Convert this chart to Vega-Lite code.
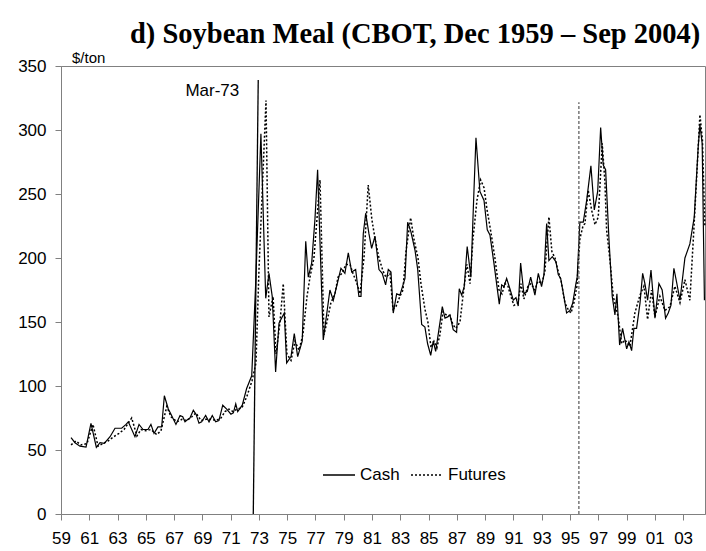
{
"$schema":"https://vega.github.io/schema/vega-lite/v6.json",
"width":644,"height":448,
"autosize":{"type":"none"},
"padding":{"left":61,"top":66,"right":1,"bottom":37},
"background":"white",
"title":{"text":"d) Soybean Meal (CBOT, Dec 1959 – Sep 2004)","font":"Liberation Serif","fontSize":28.5,"fontWeight":"bold","color":"black","anchor":"start","frame":"group","dx":69,"offset":2},
"config":{"view":{"stroke":"#808080","strokeWidth":1},"axis":{"labelFont":"Liberation Sans","labelFontSize":17,"labelColor":"black","domainColor":"#808080","tickColor":"#808080","grid":false,"title":null}},
"datasets":{
"cash":[
{"t":1959.71,"p":59.6},{"t":1959.99,"p":55.7},{"t":1960.34,"p":53},{"t":1960.77,"p":52.3},{"t":1961.12,"p":70.8},{"t":1961.50,"p":52},{"t":1961.76,"p":55.7},{"t":1962.06,"p":55.2},{"t":1962.47,"p":60.4},{"t":1962.82,"p":67},{"t":1963.29,"p":67},{"t":1963.60,"p":70},{"t":1963.76,"p":72},{"t":1964.23,"p":60.4},{"t":1964.52,"p":70},{"t":1964.80,"p":66},{"t":1965.15,"p":66},{"t":1965.36,"p":70},{"t":1965.58,"p":63},{"t":1965.86,"p":68},{"t":1966.12,"p":68},{"t":1966.31,"p":92.4},{"t":1966.59,"p":82},{"t":1966.78,"p":78},{"t":1967.13,"p":70},{"t":1967.42,"p":77},{"t":1967.61,"p":76},{"t":1967.77,"p":72},{"t":1967.98,"p":74},{"t":1968.12,"p":75},{"t":1968.36,"p":81},{"t":1968.55,"p":78},{"t":1968.76,"p":71},{"t":1968.95,"p":72},{"t":1969.23,"p":77},{"t":1969.47,"p":72},{"t":1969.70,"p":77},{"t":1969.94,"p":72},{"t":1970.17,"p":73},{"t":1970.44,"p":85},{"t":1970.72,"p":82},{"t":1971.02,"p":78},{"t":1971.19,"p":79},{"t":1971.36,"p":86},{"t":1971.50,"p":80},{"t":1971.82,"p":85},{"t":1972.13,"p":98},{"t":1972.49,"p":108},{"t":1972.77,"p":180},{"t":1973.14,"p":297},{"t":1973.48,"p":168.5},{"t":1973.71,"p":188},{"t":1973.94,"p":170},{"t":1974.18,"p":111},{"t":1974.42,"p":149},{"t":1974.79,"p":157},{"t":1974.96,"p":118},{"t":1975.27,"p":123},{"t":1975.50,"p":141},{"t":1975.74,"p":123},{"t":1976.06,"p":135},{"t":1976.31,"p":213},{"t":1976.49,"p":185},{"t":1976.73,"p":196},{"t":1976.96,"p":230},{"t":1977.15,"p":269},{"t":1977.55,"p":136},{"t":1978.02,"p":175},{"t":1978.26,"p":167},{"t":1978.80,"p":192},{"t":1979.08,"p":188},{"t":1979.32,"p":204},{"t":1979.56,"p":189},{"t":1979.84,"p":191},{"t":1980.07,"p":170},{"t":1980.22,"p":170},{"t":1980.38,"p":219},{"t":1980.55,"p":235},{"t":1980.78,"p":219},{"t":1980.97,"p":207.5},{"t":1981.21,"p":217},{"t":1981.49,"p":191},{"t":1981.72,"p":188},{"t":1981.96,"p":179},{"t":1982.15,"p":191},{"t":1982.34,"p":189},{"t":1982.50,"p":157},{"t":1982.74,"p":172},{"t":1982.97,"p":171},{"t":1983.33,"p":184},{"t":1983.52,"p":228},{"t":1983.75,"p":220.5},{"t":1984.04,"p":206},{"t":1984.23,"p":191},{"t":1984.51,"p":148},{"t":1984.74,"p":146},{"t":1984.93,"p":133},{"t":1985.15,"p":124},{"t":1985.33,"p":135},{"t":1985.50,"p":127},{"t":1985.73,"p":144},{"t":1985.97,"p":162},{"t":1986.16,"p":153},{"t":1986.35,"p":154},{"t":1986.51,"p":155.5},{"t":1986.74,"p":144},{"t":1986.98,"p":142},{"t":1987.17,"p":176},{"t":1987.34,"p":171},{"t":1987.52,"p":177.6},{"t":1987.73,"p":209},{"t":1987.99,"p":185},{"t":1988.21,"p":253},{"t":1988.35,"p":294},{"t":1988.63,"p":252},{"t":1988.92,"p":245},{"t":1989.15,"p":222},{"t":1989.34,"p":218},{"t":1989.62,"p":196},{"t":1990.00,"p":164},{"t":1990.17,"p":179},{"t":1990.33,"p":177.6},{"t":1990.52,"p":184},{"t":1990.75,"p":176},{"t":1990.99,"p":167},{"t":1991.18,"p":169},{"t":1991.34,"p":162.5},{"t":1991.51,"p":196},{"t":1991.74,"p":172},{"t":1991.98,"p":174},{"t":1992.22,"p":185},{"t":1992.52,"p":171},{"t":1992.76,"p":188},{"t":1992.99,"p":177.6},{"t":1993.16,"p":187},{"t":1993.35,"p":227},{"t":1993.51,"p":198},{"t":1993.75,"p":201},{"t":1994.01,"p":197},{"t":1994.17,"p":187},{"t":1994.34,"p":184},{"t":1994.57,"p":170},{"t":1994.76,"p":157},{"t":1995.00,"p":159},{"t":1995.19,"p":164.6},{"t":1995.42,"p":180},{"t":1995.51,"p":185},{"t":1995.70,"p":228},{"t":1995.94,"p":228},{"t":1996.18,"p":245},{"t":1996.48,"p":272},{"t":1996.72,"p":237.5},{"t":1996.96,"p":252},{"t":1997.17,"p":302},{"t":1997.35,"p":272.7},{"t":1997.52,"p":269},{"t":1997.76,"p":214},{"t":1997.99,"p":170},{"t":1998.18,"p":155.5},{"t":1998.32,"p":172},{"t":1998.51,"p":132},{"t":1998.72,"p":145},{"t":1999.01,"p":129},{"t":1999.17,"p":134.6},{"t":1999.36,"p":127.6},{"t":1999.52,"p":145},{"t":1999.71,"p":145},{"t":1999.95,"p":164.6},{"t":2000.14,"p":188},{"t":2000.30,"p":180},{"t":2000.49,"p":167},{"t":2000.73,"p":190.6},{"t":2001.01,"p":153},{"t":2001.29,"p":180},{"t":2001.52,"p":175},{"t":2001.76,"p":153},{"t":2001.95,"p":157},{"t":2002.14,"p":163},{"t":2002.35,"p":192},{"t":2002.56,"p":180},{"t":2002.78,"p":167},{"t":2003.13,"p":200},{"t":2003.48,"p":211},{"t":2003.79,"p":232},{"t":2004.07,"p":287},{"t":2004.19,"p":304},{"t":2004.35,"p":289.6},{"t":2004.51,"p":167}
],
"futures":[
{"t":1959.71,"p":54},{"t":1960.06,"p":57},{"t":1960.41,"p":54},{"t":1960.84,"p":55},{"t":1961.26,"p":70},{"t":1961.62,"p":53},{"t":1961.97,"p":55},{"t":1962.32,"p":57},{"t":1962.68,"p":60},{"t":1963.10,"p":63},{"t":1963.46,"p":66},{"t":1964.00,"p":75},{"t":1964.37,"p":61},{"t":1964.66,"p":66},{"t":1965.01,"p":65},{"t":1965.36,"p":66},{"t":1965.77,"p":62},{"t":1966.07,"p":65},{"t":1966.48,"p":84},{"t":1966.78,"p":76},{"t":1967.20,"p":72},{"t":1967.56,"p":74},{"t":1967.91,"p":73},{"t":1968.26,"p":76},{"t":1968.55,"p":79},{"t":1968.90,"p":73},{"t":1969.25,"p":74},{"t":1969.61,"p":74},{"t":1969.96,"p":73},{"t":1970.32,"p":75},{"t":1970.60,"p":80},{"t":1970.88,"p":82},{"t":1971.16,"p":80},{"t":1971.45,"p":82},{"t":1971.80,"p":83},{"t":1972.15,"p":92},{"t":1972.51,"p":104},{"t":1972.79,"p":118},{"t":1973.00,"p":190},{"t":1973.50,"p":323},{"t":1973.71,"p":154},{"t":1974.00,"p":170},{"t":1974.21,"p":125},{"t":1974.49,"p":150},{"t":1974.72,"p":180},{"t":1974.98,"p":125},{"t":1975.27,"p":120},{"t":1975.55,"p":135},{"t":1975.83,"p":128},{"t":1976.11,"p":140},{"t":1976.40,"p":170},{"t":1976.61,"p":185},{"t":1976.89,"p":200},{"t":1977.10,"p":230},{"t":1977.32,"p":261},{"t":1977.60,"p":140},{"t":1977.81,"p":150},{"t":1978.09,"p":165},{"t":1978.38,"p":172},{"t":1978.59,"p":185},{"t":1978.87,"p":188},{"t":1979.16,"p":195},{"t":1979.44,"p":195},{"t":1979.65,"p":188},{"t":1979.93,"p":180},{"t":1980.15,"p":172},{"t":1980.43,"p":200},{"t":1980.73,"p":257},{"t":1980.99,"p":230},{"t":1981.21,"p":215},{"t":1981.49,"p":200},{"t":1981.77,"p":190},{"t":1981.98,"p":185},{"t":1982.27,"p":188},{"t":1982.48,"p":160},{"t":1982.69,"p":162},{"t":1982.97,"p":170},{"t":1983.19,"p":175},{"t":1983.40,"p":205},{"t":1983.73,"p":231.5},{"t":1983.96,"p":215},{"t":1984.25,"p":200},{"t":1984.46,"p":180},{"t":1984.74,"p":160},{"t":1984.95,"p":150},{"t":1985.17,"p":130},{"t":1985.38,"p":135},{"t":1985.59,"p":130},{"t":1985.80,"p":140},{"t":1986.02,"p":158},{"t":1986.30,"p":155},{"t":1986.51,"p":155},{"t":1986.72,"p":148},{"t":1986.93,"p":145},{"t":1987.22,"p":150},{"t":1987.43,"p":170},{"t":1987.71,"p":195},{"t":1987.93,"p":180},{"t":1988.14,"p":215},{"t":1988.42,"p":245},{"t":1988.68,"p":261},{"t":1988.92,"p":255},{"t":1989.13,"p":238},{"t":1989.41,"p":220},{"t":1989.69,"p":200},{"t":1989.98,"p":175},{"t":1990.19,"p":172},{"t":1990.40,"p":180},{"t":1990.61,"p":178},{"t":1990.82,"p":170},{"t":1991.04,"p":163},{"t":1991.32,"p":165},{"t":1991.53,"p":180},{"t":1991.74,"p":168},{"t":1992.03,"p":178},{"t":1992.24,"p":180},{"t":1992.52,"p":175},{"t":1992.73,"p":182},{"t":1993.02,"p":180},{"t":1993.23,"p":190},{"t":1993.51,"p":232},{"t":1993.72,"p":205},{"t":1993.94,"p":200},{"t":1994.15,"p":190},{"t":1994.36,"p":183},{"t":1994.64,"p":165},{"t":1994.86,"p":160},{"t":1995.07,"p":157},{"t":1995.28,"p":165},{"t":1995.49,"p":178},{"t":1995.70,"p":215},{"t":1995.92,"p":225},{"t":1996.06,"p":227},{"t":1996.29,"p":253},{"t":1996.53,"p":237.5},{"t":1996.77,"p":226},{"t":1997.00,"p":232},{"t":1997.28,"p":289.6},{"t":1997.47,"p":259.6},{"t":1997.59,"p":222},{"t":1997.83,"p":198},{"t":1998.06,"p":170},{"t":1998.41,"p":154},{"t":1998.65,"p":133},{"t":1998.89,"p":136},{"t":1999.24,"p":131},{"t":1999.59,"p":157},{"t":1999.95,"p":171},{"t":2000.23,"p":178},{"t":2000.49,"p":152},{"t":2000.77,"p":175},{"t":2001.01,"p":154},{"t":2001.36,"p":170},{"t":2001.72,"p":159},{"t":2002.07,"p":162},{"t":2002.42,"p":178},{"t":2002.78,"p":165},{"t":2003.13,"p":183},{"t":2003.48,"p":167},{"t":2003.72,"p":214},{"t":2003.96,"p":263},{"t":2004.19,"p":312},{"t":2004.37,"p":292},{"t":2004.54,"p":225}
]
},
"encoding":{
"x":{"field":"t","type":"quantitative","scale":{"domain":[1959,2004.55],"nice":false,"zero":false},"axis":{"values":[1959,1961,1963,1965,1967,1969,1971,1973,1975,1977,1979,1981,1983,1985,1987,1989,1991,1993,1995,1997,1999,2001,2003],"labelExpr":"substring(toString(datum.value),2,4)","tickSize":6,"labelPadding":10,"labelOverlap":false,"labelFlush":false}},
"y":{"field":"p","type":"quantitative","scale":{"domain":[0,350],"nice":false},"axis":{"values":[0,50,100,150,200,250,300,350],"tickSize":6,"labelPadding":9}}
},
"layer":[
{"data":{"name":"futures"},"mark":{"type":"line","color":"black","strokeWidth":1.5,"strokeDash":[2,2]},"encoding":{}},
{"data":{"name":"cash"},"mark":{"type":"line","color":"black","strokeWidth":1.2},"encoding":{}},
{"data":{"values":[{"s":"Cash"},{"s":"Futures"}]},"mark":{"type":"rule","opacity":0},"encoding":{"x":{"datum":1959},"y":{"datum":0},"strokeDash":{"field":"s","type":"nominal","scale":{"domain":["Cash","Futures"],"range":[[1,0],[2,2]]},"legend":{"orient":"none","legendX":261,"legendY":392,"direction":"horizontal","title":null,"symbolType":"stroke","symbolSize":1024,"symbolStrokeColor":"black","symbolStrokeWidth":1.3,"symbolOpacity":1,"labelFont":"Liberation Sans","labelFontSize":17,"labelColor":"black","labelOffset":4,"columnPadding":8}}}},
{"data":{"values":[{"t":1972.6,"p":0,"t2":1972.95,"p2":339}]},"mark":{"type":"rule","color":"black","strokeWidth":1.3},"encoding":{"x2":{"field":"t2"},"y2":{"field":"p2"}}},
{"data":{"values":[{"t":1995.63,"p":0,"p2":321.6}]},"mark":{"type":"rule","color":"#555555","strokeWidth":1.2,"strokeDash":[3,2]},"encoding":{"y2":{"field":"p2"}}},
{"data":{"values":[{"t":1971.61,"p":326.6,"label":"Mar-73"}]},"mark":{"type":"text","align":"right","baseline":"alphabetic","font":"Liberation Sans","fontSize":17,"color":"black"},"encoding":{"text":{"field":"label"}}},
{"data":{"values":[{"t":1959.78,"p":352.5,"label":"$/ton"}]},"mark":{"type":"text","align":"left","baseline":"alphabetic","font":"Liberation Sans","fontSize":15,"color":"black"},"encoding":{"text":{"field":"label"}}}
]
}
